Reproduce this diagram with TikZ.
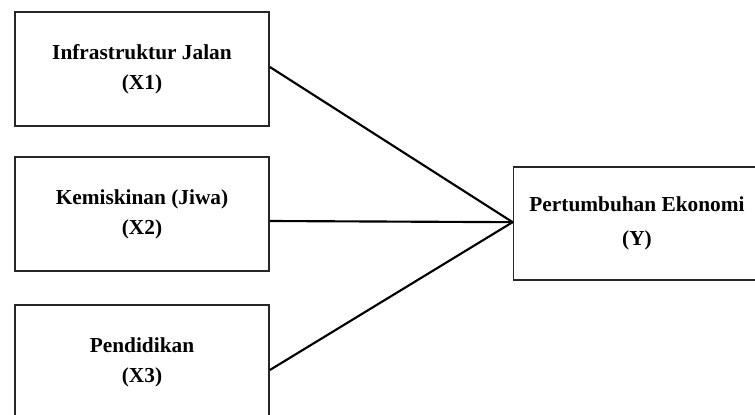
\documentclass[tikz,border=0pt]{standalone}
\usepackage{fontspec}
\setmainfont{Liberation Serif}
\begin{document}
\begin{tikzpicture}[x=0.75pt,y=-0.75pt,
  varbox/.style={draw=black!85,line width=1.3pt,rectangle,inner sep=0pt,
    minimum width=190.5pt,minimum height=85.5pt,align=center,
    font=\fontsize{16}{22.5}\selectfont\bfseries},
  ybox/.style={varbox,minimum width=185.25pt,minimum height=84.75pt,
    font=\fontsize{16}{25}\selectfont\bfseries},
  link/.style={line width=1.6pt,black}]
\useasboundingbox (0,0) rectangle (755,414);
\clip (0,0) rectangle (755,414);
\node[varbox] (b1) at (142,69) {Infrastruktur Jalan\\(X1)};
\node[varbox] (b2) at (142,214) {Kemiskinan (Jiwa)\\(X2)};
\node[varbox] (b3) at (142,362) {Pendidikan\\(X3)};
\node[ybox] (y) at (637,223.5) {Pertumbuhan Ekonomi\\(Y)};
\coordinate (t) at ([yshift=1pt]y.west);
\draw[link] ([yshift=1.5pt]b1.east) -- (t);
\draw[link] ([yshift=-5.25pt]b2.east) -- (t);
\draw[link] ([yshift=-6pt]b3.east) -- (t);
\end{tikzpicture}
\end{document}
